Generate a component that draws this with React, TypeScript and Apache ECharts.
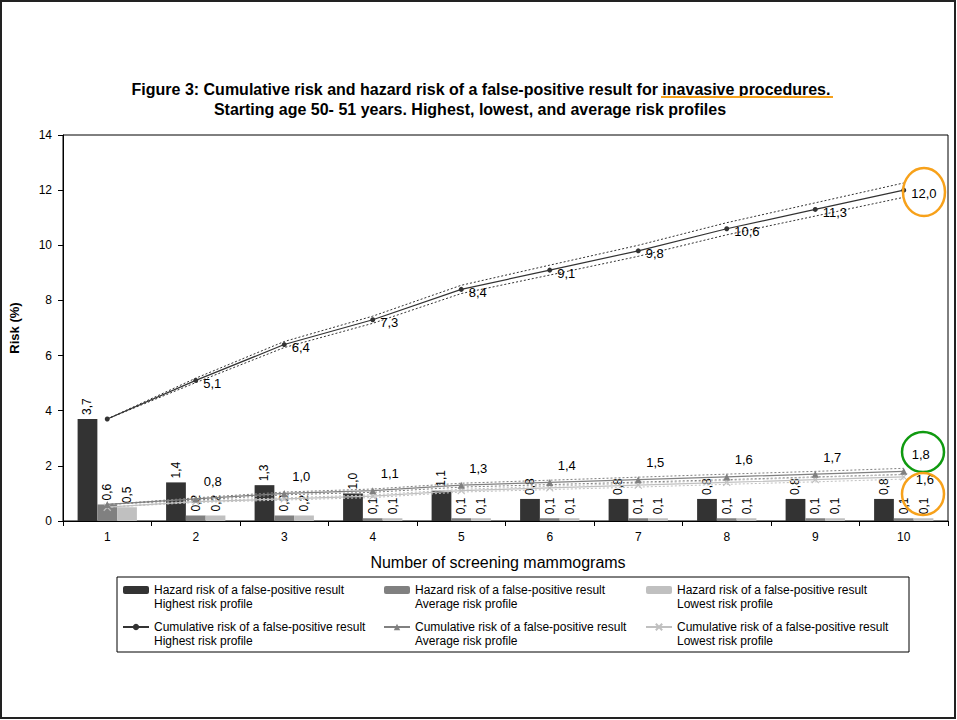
import React, { useEffect, useRef } from "react";
import * as echarts from "echarts";

const categories = ["1", "2", "3", "4", "5", "6", "7", "8", "9", "10"];
const hazardHighest = [3.7, 1.4, 1.3, 1.0, 1.1, 0.8, 0.8, 0.8, 0.8, 0.8];
const hazardAverage = [0.6, 0.2, 0.2, 0.1, 0.1, 0.1, 0.1, 0.1, 0.1, 0.1];
const hazardLowest = [0.5, 0.2, 0.2, 0.1, 0.1, 0.1, 0.1, 0.1, 0.1, 0.1];
const cumHighest = [3.7, 5.1, 6.4, 7.3, 8.4, 9.1, 9.8, 10.6, 11.3, 12.0];
const cumHighestUpper = [3.7, 5.18, 6.51, 7.43, 8.55, 9.28, 10.0, 10.82, 11.54, 12.26];
const cumHighestLower = [3.7, 5.02, 6.29, 7.17, 8.25, 8.92, 9.6, 10.38, 11.06, 11.74];
const cumAverage = [0.6, 0.8, 1.0, 1.1, 1.3, 1.4, 1.5, 1.6, 1.7, 1.8];
const cumAverageUpper = [0.6, 0.84, 1.05, 1.16, 1.37, 1.48, 1.59, 1.7, 1.8, 1.91];
const cumAverageLower = [0.6, 0.76, 0.95, 1.04, 1.23, 1.32, 1.41, 1.5, 1.6, 1.69];
const cumLowest = [0.5, 0.7, 0.8, 0.9, 1.1, 1.2, 1.3, 1.4, 1.5, 1.6];
const cumLowestUpper = [0.5, 0.73, 0.84, 0.95, 1.15, 1.26, 1.37, 1.47, 1.58, 1.68];
const cumLowestLower = [0.5, 0.67, 0.76, 0.85, 1.05, 1.14, 1.23, 1.33, 1.42, 1.52];

const titleLine1 = "Figure 3: Cumulative risk and hazard risk of a false-positive result for inavasive procedures.";
const titleLine2 = "Starting age 50- 51 years. Highest, lowest, and average risk profiles";
const xAxisName = "Number of screening mammograms";
const yAxisName = "Risk (%)";

const nHazHigh = "Hazard risk of a false-positive result\nHighest risk profile";
const nHazAvg = "Hazard risk of a false-positive result\nAverage risk profile";
const nHazLow = "Hazard risk of a false-positive result\nLowest risk profile";
const nCumHigh = "Cumulative risk of a false-positive result\nHighest risk profile";
const nCumAvg = "Cumulative risk of a false-positive result\nAverage risk profile";
const nCumLow = "Cumulative risk of a false-positive result\nLowest risk profile";

const FONT = "'Liberation Sans', Arial, sans-serif";
const cHigh = "#333333";
const cAvg = "#808080";
const cLow = "#c0c0c0";
const orange = "#f7a11a";
const green = "#109a10";

const fmt = (v: number) => v.toFixed(1).replace(".", ",");

export default function App() {
  const ref = useRef<HTMLDivElement>(null);
  useEffect(() => {
    document.body.style.margin = "0";
    if (!ref.current) return;
    const chart = echarts.init(ref.current, undefined, { renderer: "svg" });

    const barLabel = {
      show: true,
      position: "top",
      rotate: 90,
      align: "left",
      verticalAlign: "middle",
      distance: 4,
      fontSize: 12,
      fontFamily: FONT,
      color: "#000",
      formatter: (p: any) => fmt(p.value),
    };

    const ciLine = (data: number[], color: string) => ({
      type: "line",
      data,
      symbol: "none",
      silent: true,
      z: 3,
      lineStyle: { color, width: 1, type: [2, 2] },
      itemStyle: { color },
    });

    const legendBase = {
      orient: "vertical",
      top: 569,
      padding: 0,
      itemGap: -5,
      itemWidth: 26,
      itemHeight: 8,
      selectedMode: false,
      formatter: (name: string) => "\n" + name,
      textStyle: {
        fontSize: 12,
        fontFamily: FONT,
        color: "#000",
        lineHeight: 14,
      },
    };

    chart.setOption({
      animation: false,
      backgroundColor: "#fff",
      textStyle: { fontFamily: FONT },
      title: [
        {
          text: titleLine1,
          left: 481,
          top: 81,
          padding: 0,
          textAlign: "center",
          textStyle: { fontSize: 16, fontWeight: "bold", fontFamily: FONT, color: "#000" },
        },
        {
          text: titleLine2,
          left: 470,
          top: 101,
          padding: 0,
          textAlign: "center",
          textStyle: { fontSize: 16, fontWeight: "bold", fontFamily: FONT, color: "#000" },
        },
      ],
      legend: [
        { ...legendBase, left: 122, data: [nHazHigh, nCumHigh] },
        { ...legendBase, left: 383, data: [nHazAvg, nCumAvg] },
        { ...legendBase, left: 645, data: [nHazLow, nCumLow] },
      ],
      grid: {
        left: 60,
        right: 9,
        top: 135,
        bottom: 199,
        show: true,
        borderColor: "#000",
        borderWidth: 1,
        backgroundColor: "transparent",
      },
      xAxis: {
        type: "category",
        data: categories,
        name: xAxisName,
        nameLocation: "middle",
        nameGap: 33,
        nameTextStyle: { fontSize: 16, fontFamily: FONT, color: "#000", padding: [0, 15, 0, 0] },
        axisLine: { lineStyle: { color: "#000", width: 1 } },
        axisTick: { show: true, length: 5, lineStyle: { color: "#000" } },
        axisLabel: { fontSize: 12, fontFamily: FONT, color: "#000", margin: 10 },
        splitLine: { show: false },
      },
      yAxis: {
        type: "value",
        min: 0,
        max: 14,
        interval: 2,
        name: yAxisName,
        nameLocation: "middle",
        nameGap: 42,
        nameTextStyle: { fontSize: 13, fontWeight: "bold", fontFamily: FONT, color: "#000" },
        axisLine: { show: true, lineStyle: { color: "#000", width: 1 } },
        axisTick: { show: true, length: 5, lineStyle: { color: "#000" } },
        axisLabel: { fontSize: 12, fontFamily: FONT, color: "#000", margin: 11 },
        splitLine: { show: false },
      },
      series: [
        {
          name: nHazHigh,
          type: "bar",
          data: hazardHighest,
          barGap: "0%",
          barCategoryGap: "33%",
          itemStyle: { color: cHigh },
          label: barLabel,
          z: 2,
        },
        {
          name: nHazAvg,
          type: "bar",
          data: hazardAverage,
          barGap: "0%",
          barCategoryGap: "33%",
          itemStyle: { color: cAvg },
          label: barLabel,
          z: 2,
        },
        {
          name: nHazLow,
          type: "bar",
          data: hazardLowest,
          barGap: "0%",
          barCategoryGap: "33%",
          itemStyle: { color: cLow },
          label: barLabel,
          z: 2,
        },
        ciLine(cumHighestUpper, cHigh),
        ciLine(cumHighestLower, cHigh),
        ciLine(cumAverageUpper, cAvg),
        ciLine(cumAverageLower, cAvg),
        ciLine(cumLowestUpper, cLow),
        ciLine(cumLowestLower, cLow),
        {
          name: nCumLow,
          type: "line",
          data: cumLowest,
          symbol: "path://M0,0L8,8M8,0L0,8",
          symbolSize: 7,
          z: 4,
          lineStyle: { color: cLow, width: 1.2 },
          itemStyle: { color: cLow, borderColor: cLow, borderWidth: 1.2 },
          label: {
            show: true,
            position: "right",
            distance: 8,
            offset: [0, 3],
            fontSize: 13,
            fontFamily: FONT,
            color: "#000",
            formatter: (p: any) => (p.dataIndex === cumLowest.length - 1 ? fmt(p.value) : ""),
          },
        },
        {
          name: nCumAvg,
          type: "line",
          data: cumAverage,
          symbol: "triangle",
          symbolSize: 7,
          z: 5,
          lineStyle: { color: cAvg, width: 1.2 },
          itemStyle: { color: cAvg },
          label: {
            show: true,
            position: "top",
            distance: 7,
            offset: [17, 0],
            fontSize: 13,
            fontFamily: FONT,
            color: "#000",
            formatter: (p: any) => (p.dataIndex === 0 ? "" : fmt(p.value)),
          },
        },
        {
          name: nCumHigh,
          type: "line",
          data: cumHighest,
          symbol: "circle",
          symbolSize: 5,
          z: 6,
          lineStyle: { color: cHigh, width: 1.2 },
          itemStyle: { color: cHigh },
          label: {
            show: true,
            position: "right",
            distance: 5,
            offset: [0, 3],
            fontSize: 13,
            fontFamily: FONT,
            color: "#000",
            formatter: (p: any) => (p.dataIndex === 0 ? "" : fmt(p.value)),
          },
        },
      ],
      graphic: [
        {
          type: "rect",
          z: 0,
          silent: true,
          shape: { x: 1, y: 1, width: 954, height: 717 },
          style: { fill: "none", stroke: "#222", lineWidth: 2 },
        },
        {
          type: "rect",
          z: 0,
          silent: true,
          shape: { x: 117, y: 577, width: 792, height: 75 },
          style: { fill: "none", stroke: "#000", lineWidth: 1 },
        },
        {
          type: "line",
          z: 100,
          silent: true,
          shape: { x1: 661, y1: 97, x2: 833, y2: 97 },
          style: { stroke: orange, lineWidth: 2 },
        },
        {
          type: "ellipse",
          z: 100,
          silent: true,
          shape: { cx: 924, cy: 192, rx: 21, ry: 24 },
          style: { fill: "none", stroke: orange, lineWidth: 2.5 },
        },
        {
          type: "ellipse",
          z: 100,
          silent: true,
          shape: { cx: 923, cy: 452, rx: 21, ry: 20 },
          style: { fill: "none", stroke: green, lineWidth: 2.5 },
        },
        {
          type: "ellipse",
          z: 100,
          silent: true,
          shape: { cx: 923, cy: 494, rx: 21, ry: 21 },
          style: { fill: "none", stroke: orange, lineWidth: 2.5 },
        },
      ],
    });
    return () => chart.dispose();
  }, []);
  return <div ref={ref} style={{ width: 957, height: 720 }} />;
}
